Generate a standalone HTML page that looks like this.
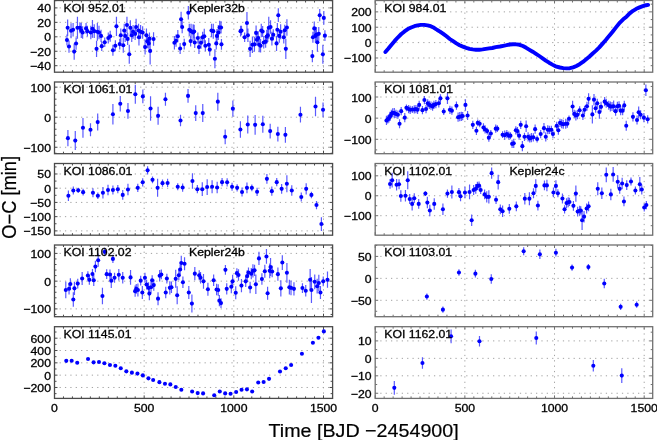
<!DOCTYPE html>
<html><head><meta charset="utf-8"><style>
html,body{margin:0;padding:0;background:#fff;}
body{width:657px;height:440px;overflow:hidden;position:relative;}
svg{will-change:transform;}
.tl{font-family:"Liberation Sans",sans-serif;font-size:11.4px;fill:#000;stroke:#000;stroke-width:0.3px;}
.ax{font-family:"Liberation Sans",sans-serif;font-size:18.3px;fill:#000;stroke:#000;stroke-width:0.2px;}
</style></head><body>
<svg width="657" height="440" viewBox="0 0 657 440" style="position:absolute;left:0;top:0">
<path d="M54.2 7.9H331.6M54.2 22.35H331.6M54.2 36.8H331.6M54.2 51.25H331.6M54.2 65.7H331.6M144.17 72.85V1.5M233.83 72.85V1.5M323.5 72.85V1.5" stroke="#a2a2a2" stroke-width="1" stroke-dasharray="1.25 4.12" fill="none"/>
<path d="M54.5 65.7h3M332.6 65.7h-3M54.5 58.47h2M332.6 58.47h-2M54.5 51.25h3M332.6 51.25h-3M54.5 44.02h2M332.6 44.02h-2M54.5 36.8h3M332.6 36.8h-3M54.5 29.57h2M332.6 29.57h-2M54.5 22.35h3M332.6 22.35h-3M54.5 15.12h2M332.6 15.12h-2M54.5 7.9h3M332.6 7.9h-3M54.5 0.67h2M332.6 0.67h-2M54.5 72.2v-3M54.5 0.5v3M63.47 72.2v-2M63.47 0.5v2M72.43 72.2v-2M72.43 0.5v2M81.4 72.2v-2M81.4 0.5v2M90.37 72.2v-2M90.37 0.5v2M99.33 72.2v-2M99.33 0.5v2M108.3 72.2v-2M108.3 0.5v2M117.27 72.2v-2M117.27 0.5v2M126.23 72.2v-2M126.23 0.5v2M135.2 72.2v-2M135.2 0.5v2M144.17 72.2v-3M144.17 0.5v3M153.13 72.2v-2M153.13 0.5v2M162.1 72.2v-2M162.1 0.5v2M171.07 72.2v-2M171.07 0.5v2M180.03 72.2v-2M180.03 0.5v2M189 72.2v-2M189 0.5v2M197.97 72.2v-2M197.97 0.5v2M206.93 72.2v-2M206.93 0.5v2M215.9 72.2v-2M215.9 0.5v2M224.87 72.2v-2M224.87 0.5v2M233.83 72.2v-3M233.83 0.5v3M242.8 72.2v-2M242.8 0.5v2M251.77 72.2v-2M251.77 0.5v2M260.73 72.2v-2M260.73 0.5v2M269.7 72.2v-2M269.7 0.5v2M278.67 72.2v-2M278.67 0.5v2M287.63 72.2v-2M287.63 0.5v2M296.6 72.2v-2M296.6 0.5v2M305.57 72.2v-2M305.57 0.5v2M314.53 72.2v-2M314.53 0.5v2M323.5 72.2v-3M323.5 0.5v3M332.47 72.2v-2M332.47 0.5v2" stroke="#4a4a4a" stroke-width="1" fill="none"/>
<path d="M66.95 34.55v10.91M67.64 19.55v16.36M69 40.41v12.27M71.05 23.23v15M73.09 22.95v13.64M74.18 43.41v16.36M76.09 37.41v12.27M77.45 16.82v21.82M79.91 22.27v10.91M81.27 22.95v15M82.64 26.36v12.27M86.05 22.95v10.91M87.41 25.68v10.91M90.82 25.68v13.64M92.45 19.95v17.73M94.23 24.32v13.64M96.55 40.68v16.36M97.36 22.95v17.73M99 25.68v13.64M101.05 29.77v12.27M101.73 41.36v9.55M104.73 37.55v9.55M108.27 32.5v10.91M110.18 30.73v10.91M112.91 44.77v10.91M115.36 40.27v10.91M116.45 16.82v19.09M119.73 38.64v10.91M120.82 28.41v13.64M123.27 37.68v15M124.23 23.64v13.64M125.18 29.77v12.27M126.95 16.82v16.36M127.64 32.77v12.27M129.27 44.77v19.09M130.36 20.23v15M131.73 28.41v13.64M133.09 25v13.64M135.14 27.73v12.27M136.09 18.86v16.36M138.55 23.64v13.64M138.95 29.09v16.36M140.59 25v13.64M142.64 26.36v12.27M145.09 39.59v15M146.45 28.41v13.64M147.41 34.55v13.64M148.77 37.95v10.91M149.45 32.5v12.27M150.14 37.27v27.27M153.55 32.23v13.64M174.41 35.91v13.64M176.05 34.55v12.27M177.82 30.05v12.27M180.14 43v10.91M181.09 11.77v15M182.18 20.91v12.27M184.23 38.64v10.91M188.32 5.91v13.64M189.27 23.64v12.27M190.64 35.64v10.91M191.05 23.64v15M193.09 24.32v16.36M194.18 24.73v13.64M194.73 37v10.91M197.86 32.5v10.91M198.95 40.27v13.64M201 36.59v12.27M202.64 31.82v10.91M204.27 28.82v15M205.36 40.27v10.91M208.77 37.95v13.64M209.73 43.41v12.27M211.5 23.64v13.64M213.27 23.64v15M214.91 49.14v19.09M216.27 37.27v12.27M216.95 29.09v13.64M218.32 25v15M219.68 20.64v13.64M221.05 21.32v12.27M221.45 38.91v10.91M240.55 25.68v10.91M241.5 25.68v9.55M244.64 32.5v9.55M246.95 12.05v21.82M247.91 28.41v13.64M250.09 40.68v16.36M252.41 36.59v16.36M254.45 36.86v15M256.09 25.41v15M256.91 33.59v12.27M258.27 31.14v13.64M259.23 37.27v15M260.59 38.91v13.64M261.27 23.64v13.64M262.64 26.09v10.91M263.73 36.32v12.27M265.64 35.5v12.27M266.73 29.77v13.64M267.82 28.41v13.64M268.77 16.82v21.82M270.55 20.23v13.64M271.91 31.82v13.64M273.27 29.36v10.91M276.55 35.91v15M277.36 22.95v13.64M278.32 8.36v13.64M279.27 29.09v13.64M280.64 24.32v15M283.77 31.14v12.27M284.73 24.73v10.91M285.82 38.64v20.45M286.91 19.27v16.36M312.36 49.95v12.27M312.91 31.82v10.91M314.27 21.59v13.64M315.36 29.09v13.64M316.45 27.05v15M317.41 32.77v19.09M318.77 27.05v13.64M319.73 9.05v12.27M322.86 44.77v19.09M323.82 11.09v13.64M324.91 30.18v10.91" stroke="#5a5aff" stroke-width="1.2" fill="none"/>
<g fill="#0000ff"><circle cx="66.95" cy="40" r="2.05"/><circle cx="67.64" cy="27.73" r="2.05"/><circle cx="69" cy="46.55" r="2.05"/><circle cx="71.05" cy="30.73" r="2.05"/><circle cx="73.09" cy="29.77" r="2.05"/><circle cx="74.18" cy="51.59" r="2.05"/><circle cx="76.09" cy="43.55" r="2.05"/><circle cx="77.45" cy="27.73" r="2.05"/><circle cx="79.91" cy="27.73" r="2.05"/><circle cx="81.27" cy="30.45" r="2.05"/><circle cx="82.64" cy="32.5" r="2.05"/><circle cx="86.05" cy="28.41" r="2.05"/><circle cx="87.41" cy="31.14" r="2.05"/><circle cx="90.82" cy="32.5" r="2.05"/><circle cx="92.45" cy="28.82" r="2.05"/><circle cx="94.23" cy="31.14" r="2.05"/><circle cx="96.55" cy="48.86" r="2.05"/><circle cx="97.36" cy="31.82" r="2.05"/><circle cx="99" cy="32.5" r="2.05"/><circle cx="101.05" cy="35.91" r="2.05"/><circle cx="101.73" cy="46.14" r="2.05"/><circle cx="104.73" cy="42.32" r="2.05"/><circle cx="108.27" cy="37.95" r="2.05"/><circle cx="110.18" cy="36.18" r="2.05"/><circle cx="112.91" cy="50.23" r="2.05"/><circle cx="115.36" cy="45.73" r="2.05"/><circle cx="116.45" cy="26.36" r="2.05"/><circle cx="119.73" cy="44.09" r="2.05"/><circle cx="120.82" cy="35.23" r="2.05"/><circle cx="123.27" cy="45.18" r="2.05"/><circle cx="124.23" cy="30.45" r="2.05"/><circle cx="125.18" cy="35.91" r="2.05"/><circle cx="126.95" cy="25" r="2.05"/><circle cx="127.64" cy="38.91" r="2.05"/><circle cx="129.27" cy="54.32" r="2.05"/><circle cx="130.36" cy="27.73" r="2.05"/><circle cx="131.73" cy="35.23" r="2.05"/><circle cx="133.09" cy="31.82" r="2.05"/><circle cx="135.14" cy="33.86" r="2.05"/><circle cx="136.09" cy="27.05" r="2.05"/><circle cx="138.55" cy="30.45" r="2.05"/><circle cx="138.95" cy="37.27" r="2.05"/><circle cx="140.59" cy="31.82" r="2.05"/><circle cx="142.64" cy="32.5" r="2.05"/><circle cx="145.09" cy="47.09" r="2.05"/><circle cx="146.45" cy="35.23" r="2.05"/><circle cx="147.41" cy="41.36" r="2.05"/><circle cx="148.77" cy="43.41" r="2.05"/><circle cx="149.45" cy="38.64" r="2.05"/><circle cx="150.14" cy="50.91" r="2.05"/><circle cx="153.55" cy="39.05" r="2.05"/><circle cx="174.41" cy="42.73" r="2.05"/><circle cx="176.05" cy="40.68" r="2.05"/><circle cx="177.82" cy="36.18" r="2.05"/><circle cx="180.14" cy="48.45" r="2.05"/><circle cx="181.09" cy="19.27" r="2.05"/><circle cx="182.18" cy="27.05" r="2.05"/><circle cx="184.23" cy="44.09" r="2.05"/><circle cx="188.32" cy="12.73" r="2.05"/><circle cx="189.27" cy="29.77" r="2.05"/><circle cx="190.64" cy="41.09" r="2.05"/><circle cx="191.05" cy="31.14" r="2.05"/><circle cx="193.09" cy="32.5" r="2.05"/><circle cx="194.18" cy="31.55" r="2.05"/><circle cx="194.73" cy="42.45" r="2.05"/><circle cx="197.86" cy="37.95" r="2.05"/><circle cx="198.95" cy="47.09" r="2.05"/><circle cx="201" cy="42.73" r="2.05"/><circle cx="202.64" cy="37.27" r="2.05"/><circle cx="204.27" cy="36.32" r="2.05"/><circle cx="205.36" cy="45.73" r="2.05"/><circle cx="208.77" cy="44.77" r="2.05"/><circle cx="209.73" cy="49.55" r="2.05"/><circle cx="211.5" cy="30.45" r="2.05"/><circle cx="213.27" cy="31.14" r="2.05"/><circle cx="214.91" cy="58.68" r="2.05"/><circle cx="216.27" cy="43.41" r="2.05"/><circle cx="216.95" cy="35.91" r="2.05"/><circle cx="218.32" cy="32.5" r="2.05"/><circle cx="219.68" cy="27.45" r="2.05"/><circle cx="221.05" cy="27.45" r="2.05"/><circle cx="221.45" cy="44.36" r="2.05"/><circle cx="240.55" cy="31.14" r="2.05"/><circle cx="241.5" cy="30.45" r="2.05"/><circle cx="244.64" cy="37.27" r="2.05"/><circle cx="246.95" cy="22.95" r="2.05"/><circle cx="247.91" cy="35.23" r="2.05"/><circle cx="250.09" cy="48.86" r="2.05"/><circle cx="252.41" cy="44.77" r="2.05"/><circle cx="254.45" cy="44.36" r="2.05"/><circle cx="256.09" cy="32.91" r="2.05"/><circle cx="256.91" cy="39.73" r="2.05"/><circle cx="258.27" cy="37.95" r="2.05"/><circle cx="259.23" cy="44.77" r="2.05"/><circle cx="260.59" cy="45.73" r="2.05"/><circle cx="261.27" cy="30.45" r="2.05"/><circle cx="262.64" cy="31.55" r="2.05"/><circle cx="263.73" cy="42.45" r="2.05"/><circle cx="265.64" cy="41.64" r="2.05"/><circle cx="266.73" cy="36.59" r="2.05"/><circle cx="267.82" cy="35.23" r="2.05"/><circle cx="268.77" cy="27.73" r="2.05"/><circle cx="270.55" cy="27.05" r="2.05"/><circle cx="271.91" cy="38.64" r="2.05"/><circle cx="273.27" cy="34.82" r="2.05"/><circle cx="276.55" cy="43.41" r="2.05"/><circle cx="277.36" cy="29.77" r="2.05"/><circle cx="278.32" cy="15.18" r="2.05"/><circle cx="279.27" cy="35.91" r="2.05"/><circle cx="280.64" cy="31.82" r="2.05"/><circle cx="283.77" cy="37.27" r="2.05"/><circle cx="284.73" cy="30.18" r="2.05"/><circle cx="285.82" cy="48.86" r="2.05"/><circle cx="286.91" cy="27.45" r="2.05"/><circle cx="312.36" cy="56.09" r="2.05"/><circle cx="312.91" cy="37.27" r="2.05"/><circle cx="314.27" cy="28.41" r="2.05"/><circle cx="315.36" cy="35.91" r="2.05"/><circle cx="316.45" cy="34.55" r="2.05"/><circle cx="317.41" cy="42.32" r="2.05"/><circle cx="318.77" cy="33.86" r="2.05"/><circle cx="319.73" cy="15.18" r="2.05"/><circle cx="322.86" cy="54.32" r="2.05"/><circle cx="323.82" cy="17.91" r="2.05"/><circle cx="324.91" cy="35.64" r="2.05"/></g>
<rect x="54.5" y="0.5" width="278.1" height="71.7" fill="none" stroke="#4a4a4a" stroke-width="1.3"/>
<text transform="translate(51 12.4) scale(1.075 1)" text-anchor="end" class="tl">40</text>
<text transform="translate(51 26.85) scale(1.075 1)" text-anchor="end" class="tl">20</text>
<text transform="translate(51 41.3) scale(1.075 1)" text-anchor="end" class="tl">0</text>
<text transform="translate(51 55.75) scale(1.075 1)" text-anchor="end" class="tl">−20</text>
<text transform="translate(51 70.2) scale(1.075 1)" text-anchor="end" class="tl">−40</text>
<text transform="translate(63.6 11.6) scale(1.075 1)" class="tl">KOI 952.01</text>
<text transform="translate(189 11.6) scale(1.075 1)" class="tl">Kepler32b</text>
<path d="M54.2 87.15H331.6M54.2 117.2H331.6M54.2 147.25H331.6M144.17 154.35V83M233.83 154.35V83M323.5 154.35V83" stroke="#a2a2a2" stroke-width="1" stroke-dasharray="1.25 4.12" fill="none"/>
<path d="M54.5 153.26h2M332.6 153.26h-2M54.5 147.25h3M332.6 147.25h-3M54.5 141.24h2M332.6 141.24h-2M54.5 135.23h2M332.6 135.23h-2M54.5 129.22h2M332.6 129.22h-2M54.5 123.21h2M332.6 123.21h-2M54.5 117.2h3M332.6 117.2h-3M54.5 111.19h2M332.6 111.19h-2M54.5 105.18h2M332.6 105.18h-2M54.5 99.17h2M332.6 99.17h-2M54.5 93.16h2M332.6 93.16h-2M54.5 87.15h3M332.6 87.15h-3M54.5 153.7v-3M54.5 82v3M63.47 153.7v-2M63.47 82v2M72.43 153.7v-2M72.43 82v2M81.4 153.7v-2M81.4 82v2M90.37 153.7v-2M90.37 82v2M99.33 153.7v-2M99.33 82v2M108.3 153.7v-2M108.3 82v2M117.27 153.7v-2M117.27 82v2M126.23 153.7v-2M126.23 82v2M135.2 153.7v-2M135.2 82v2M144.17 153.7v-3M144.17 82v3M153.13 153.7v-2M153.13 82v2M162.1 153.7v-2M162.1 82v2M171.07 153.7v-2M171.07 82v2M180.03 153.7v-2M180.03 82v2M189 153.7v-2M189 82v2M197.97 153.7v-2M197.97 82v2M206.93 153.7v-2M206.93 82v2M215.9 153.7v-2M215.9 82v2M224.87 153.7v-2M224.87 82v2M233.83 153.7v-3M233.83 82v3M242.8 153.7v-2M242.8 82v2M251.77 153.7v-2M251.77 82v2M260.73 153.7v-2M260.73 82v2M269.7 153.7v-2M269.7 82v2M278.67 153.7v-2M278.67 82v2M287.63 153.7v-2M287.63 82v2M296.6 153.7v-2M296.6 82v2M305.57 153.7v-2M305.57 82v2M314.53 153.7v-2M314.53 82v2M323.5 153.7v-3M323.5 82v3M332.47 153.7v-2M332.47 82v2" stroke="#4a4a4a" stroke-width="1" fill="none"/>
<path d="M67.91 129.95v16.36M75.27 131.09v18.98M82.96 118v19.64M90.49 123.24v13.09M97.69 113.58v17.02M112.91 104.09v20.29M120.27 95.91v15.71M127.96 103.11v15.71M135.33 84.78v18.98M142.85 89.53v13.75M150.55 96.24v24.55M158.09 106.87v18M165.45 92.64v13.09M180.51 114.73v11.45M188.04 89.04v13.75M195.73 105.24v15.71M202.76 104.09v18M217.82 92.64v18M225.18 129.45v14.73M232.87 100.49v16.36M240.4 121.27v16.36M247.76 115.55v18M255.13 115.05v19.64M262.82 115.71v17.02M270.18 123.73v14.73M277.87 126.67v14.73M285.4 127v15.71M300.45 106.87v15.71M315.51 96.73v19.64M323.04 102.45v14.73" stroke="#5a5aff" stroke-width="1.2" fill="none"/>
<g fill="#0000ff"><circle cx="67.91" cy="138.13" r="2.05"/><circle cx="75.27" cy="140.58" r="2.05"/><circle cx="82.96" cy="127.82" r="2.05"/><circle cx="90.49" cy="129.78" r="2.05"/><circle cx="97.69" cy="122.09" r="2.05"/><circle cx="112.91" cy="114.24" r="2.05"/><circle cx="120.27" cy="103.76" r="2.05"/><circle cx="127.96" cy="110.96" r="2.05"/><circle cx="135.33" cy="94.27" r="2.05"/><circle cx="142.85" cy="96.4" r="2.05"/><circle cx="150.55" cy="108.51" r="2.05"/><circle cx="158.09" cy="115.87" r="2.05"/><circle cx="165.45" cy="99.18" r="2.05"/><circle cx="180.51" cy="120.45" r="2.05"/><circle cx="188.04" cy="95.91" r="2.05"/><circle cx="195.73" cy="113.09" r="2.05"/><circle cx="202.76" cy="113.09" r="2.05"/><circle cx="217.82" cy="101.64" r="2.05"/><circle cx="225.18" cy="136.82" r="2.05"/><circle cx="232.87" cy="108.67" r="2.05"/><circle cx="240.4" cy="129.45" r="2.05"/><circle cx="247.76" cy="124.55" r="2.05"/><circle cx="255.13" cy="124.87" r="2.05"/><circle cx="262.82" cy="124.22" r="2.05"/><circle cx="270.18" cy="131.09" r="2.05"/><circle cx="277.87" cy="134.04" r="2.05"/><circle cx="285.4" cy="134.85" r="2.05"/><circle cx="300.45" cy="114.73" r="2.05"/><circle cx="315.51" cy="106.55" r="2.05"/><circle cx="323.04" cy="109.82" r="2.05"/></g>
<rect x="54.5" y="82" width="278.1" height="71.7" fill="none" stroke="#4a4a4a" stroke-width="1.3"/>
<text transform="translate(51 91.65) scale(1.075 1)" text-anchor="end" class="tl">100</text>
<text transform="translate(51 121.7) scale(1.075 1)" text-anchor="end" class="tl">0</text>
<text transform="translate(51 151.75) scale(1.075 1)" text-anchor="end" class="tl">−100</text>
<text transform="translate(63.6 93.1) scale(1.075 1)" class="tl">KOI 1061.01</text>
<path d="M54.2 173.97H331.6M54.2 188.2H331.6M54.2 202.42H331.6M54.2 216.65H331.6M54.2 230.88H331.6M144.17 235.85V164.5M233.83 235.85V164.5M323.5 235.85V164.5" stroke="#a2a2a2" stroke-width="1" stroke-dasharray="1.25 4.12" fill="none"/>
<path d="M54.5 230.88h3M332.6 230.88h-3M54.5 223.76h2M332.6 223.76h-2M54.5 216.65h3M332.6 216.65h-3M54.5 209.54h2M332.6 209.54h-2M54.5 202.42h3M332.6 202.42h-3M54.5 195.31h2M332.6 195.31h-2M54.5 188.2h3M332.6 188.2h-3M54.5 181.09h2M332.6 181.09h-2M54.5 173.97h3M332.6 173.97h-3M54.5 166.86h2M332.6 166.86h-2M54.5 235.2v-3M54.5 163.5v3M63.47 235.2v-2M63.47 163.5v2M72.43 235.2v-2M72.43 163.5v2M81.4 235.2v-2M81.4 163.5v2M90.37 235.2v-2M90.37 163.5v2M99.33 235.2v-2M99.33 163.5v2M108.3 235.2v-2M108.3 163.5v2M117.27 235.2v-2M117.27 163.5v2M126.23 235.2v-2M126.23 163.5v2M135.2 235.2v-2M135.2 163.5v2M144.17 235.2v-3M144.17 163.5v3M153.13 235.2v-2M153.13 163.5v2M162.1 235.2v-2M162.1 163.5v2M171.07 235.2v-2M171.07 163.5v2M180.03 235.2v-2M180.03 163.5v2M189 235.2v-2M189 163.5v2M197.97 235.2v-2M197.97 163.5v2M206.93 235.2v-2M206.93 163.5v2M215.9 235.2v-2M215.9 163.5v2M224.87 235.2v-2M224.87 163.5v2M233.83 235.2v-3M233.83 163.5v3M242.8 235.2v-2M242.8 163.5v2M251.77 235.2v-2M251.77 163.5v2M260.73 235.2v-2M260.73 163.5v2M269.7 235.2v-2M269.7 163.5v2M278.67 235.2v-2M278.67 163.5v2M287.63 235.2v-2M287.63 163.5v2M296.6 235.2v-2M296.6 163.5v2M305.57 235.2v-2M305.57 163.5v2M314.53 235.2v-2M314.53 163.5v2M323.5 235.2v-3M323.5 163.5v3M332.47 235.2v-2M332.47 163.5v2" stroke="#4a4a4a" stroke-width="1" fill="none"/>
<path d="M68.4 190.49v10.47M73.31 186.4v8.18M78.22 187.87v4.91M83.13 188.85v6.55M92.95 188.2v9.16M97.85 192.45v6.55M102.93 187.05v11.45M108 184.76v10.47M112.91 185.42v9.16M117.82 185.09v8.18M122.73 190v9.82M127.96 183.78v11.45M137.78 183.78v8.18M142.69 178.22v8.18M147.6 166.27v8.18M152.51 176.58v6.55M157.6 178.87v18M162.51 179.53v7.2M167.58 178.87v8.18M177.73 183.13v7.2M182.64 183.45v8.18M192.45 173.15v15.71M197.36 185.09v8.18M202.27 182.31v13.75M207.18 179.2v15.71M212.09 180.18v13.09M217.16 181.82v11.45M222.07 178.05v8.18M227.15 178.22v8.18M232.05 182.64v8.18M237.13 184.27v7.2M242.04 187.38v9.16M246.95 182.47v10.8M251.85 184.6v6.55M257.09 187.71v8.18M266.91 173.96v9.82M271.82 186.56v9.16M276.73 178.05v8.18M281.64 183.95v9.82M286.87 175.27v17.02M291.78 185.25v10.47M301.27 192.45v9.16M306.18 183.13v11.45M311.42 191.64v6.55M316.49 200.96v8.18M321.4 217.16v13.75" stroke="#5a5aff" stroke-width="1.2" fill="none"/>
<g fill="#0000ff"><circle cx="68.4" cy="195.73" r="2.05"/><circle cx="73.31" cy="190.49" r="2.05"/><circle cx="78.22" cy="190.33" r="2.05"/><circle cx="83.13" cy="192.13" r="2.05"/><circle cx="92.95" cy="192.78" r="2.05"/><circle cx="97.85" cy="195.73" r="2.05"/><circle cx="102.93" cy="192.78" r="2.05"/><circle cx="108" cy="190" r="2.05"/><circle cx="112.91" cy="190" r="2.05"/><circle cx="117.82" cy="189.18" r="2.05"/><circle cx="122.73" cy="194.91" r="2.05"/><circle cx="127.96" cy="189.51" r="2.05"/><circle cx="137.78" cy="187.87" r="2.05"/><circle cx="142.69" cy="182.31" r="2.05"/><circle cx="147.6" cy="170.36" r="2.05"/><circle cx="152.51" cy="179.85" r="2.05"/><circle cx="157.6" cy="187.87" r="2.05"/><circle cx="162.51" cy="183.13" r="2.05"/><circle cx="167.58" cy="182.96" r="2.05"/><circle cx="177.73" cy="186.73" r="2.05"/><circle cx="182.64" cy="187.55" r="2.05"/><circle cx="192.45" cy="181" r="2.05"/><circle cx="197.36" cy="189.18" r="2.05"/><circle cx="202.27" cy="189.18" r="2.05"/><circle cx="207.18" cy="187.05" r="2.05"/><circle cx="212.09" cy="186.73" r="2.05"/><circle cx="217.16" cy="187.55" r="2.05"/><circle cx="222.07" cy="182.15" r="2.05"/><circle cx="227.15" cy="182.31" r="2.05"/><circle cx="232.05" cy="186.73" r="2.05"/><circle cx="237.13" cy="187.87" r="2.05"/><circle cx="242.04" cy="191.96" r="2.05"/><circle cx="246.95" cy="187.87" r="2.05"/><circle cx="251.85" cy="187.87" r="2.05"/><circle cx="257.09" cy="191.8" r="2.05"/><circle cx="266.91" cy="178.87" r="2.05"/><circle cx="271.82" cy="191.15" r="2.05"/><circle cx="276.73" cy="182.15" r="2.05"/><circle cx="281.64" cy="188.85" r="2.05"/><circle cx="286.87" cy="183.78" r="2.05"/><circle cx="291.78" cy="190.49" r="2.05"/><circle cx="301.27" cy="197.04" r="2.05"/><circle cx="306.18" cy="188.85" r="2.05"/><circle cx="311.42" cy="194.91" r="2.05"/><circle cx="316.49" cy="205.05" r="2.05"/><circle cx="321.4" cy="224.04" r="2.05"/></g>
<rect x="54.5" y="163.5" width="278.1" height="71.7" fill="none" stroke="#4a4a4a" stroke-width="1.3"/>
<text transform="translate(51 178.47) scale(1.075 1)" text-anchor="end" class="tl">50</text>
<text transform="translate(51 192.7) scale(1.075 1)" text-anchor="end" class="tl">0</text>
<text transform="translate(51 206.92) scale(1.075 1)" text-anchor="end" class="tl">−50</text>
<text transform="translate(51 221.15) scale(1.075 1)" text-anchor="end" class="tl">−100</text>
<text transform="translate(51 235.38) scale(1.075 1)" text-anchor="end" class="tl">−150</text>
<text transform="translate(63.6 174.6) scale(1.075 1)" class="tl">KOI 1086.01</text>
<path d="M54.2 253.4H331.6M54.2 281.15H331.6M54.2 308.9H331.6M144.17 317.35V246M233.83 317.35V246M323.5 317.35V246" stroke="#a2a2a2" stroke-width="1" stroke-dasharray="1.25 4.12" fill="none"/>
<path d="M54.5 314.45h2M332.6 314.45h-2M54.5 308.9h3M332.6 308.9h-3M54.5 303.35h2M332.6 303.35h-2M54.5 297.8h2M332.6 297.8h-2M54.5 292.25h2M332.6 292.25h-2M54.5 286.7h2M332.6 286.7h-2M54.5 281.15h3M332.6 281.15h-3M54.5 275.6h2M332.6 275.6h-2M54.5 270.05h2M332.6 270.05h-2M54.5 264.5h2M332.6 264.5h-2M54.5 258.95h2M332.6 258.95h-2M54.5 253.4h3M332.6 253.4h-3M54.5 247.85h2M332.6 247.85h-2M54.5 316.7v-3M54.5 245v3M63.47 316.7v-2M63.47 245v2M72.43 316.7v-2M72.43 245v2M81.4 316.7v-2M81.4 245v2M90.37 316.7v-2M90.37 245v2M99.33 316.7v-2M99.33 245v2M108.3 316.7v-2M108.3 245v2M117.27 316.7v-2M117.27 245v2M126.23 316.7v-2M126.23 245v2M135.2 316.7v-2M135.2 245v2M144.17 316.7v-3M144.17 245v3M153.13 316.7v-2M153.13 245v2M162.1 316.7v-2M162.1 245v2M171.07 316.7v-2M171.07 245v2M180.03 316.7v-2M180.03 245v2M189 316.7v-2M189 245v2M197.97 316.7v-2M197.97 245v2M206.93 316.7v-2M206.93 245v2M215.9 316.7v-2M215.9 245v2M224.87 316.7v-2M224.87 245v2M233.83 316.7v-3M233.83 245v3M242.8 316.7v-2M242.8 245v2M251.77 316.7v-2M251.77 245v2M260.73 316.7v-2M260.73 245v2M269.7 316.7v-2M269.7 245v2M278.67 316.7v-2M278.67 245v2M287.63 316.7v-2M287.63 245v2M296.6 316.7v-2M296.6 245v2M305.57 316.7v-2M305.57 245v2M314.53 316.7v-2M314.53 245v2M323.5 316.7v-3M323.5 245v3M332.47 316.7v-2M332.47 245v2" stroke="#4a4a4a" stroke-width="1" fill="none"/>
<path d="M65.78 281.82v16.36M69.05 282.96v11.45M70.36 278.22v11.45M73.31 292.13v14.73M74.45 281.82v13.09M77.73 278.71v9.82M82.15 272v13.09M87.87 271.35v8.18M89.35 274.95v9.82M92.45 269.05v9.82M93.76 274.45v11.45M95.4 260.87v11.45M98.18 253.67v13.09M102.44 287.87v16.36M104.73 247.78v8.18M106.69 269.22v9.82M109.96 269.55v9.82M111.27 273.31v14.73M112.91 254.82v8.18M114.55 272.82v9.82M118.8 269.05v11.45M122.73 272v11.45M130.55 270.04v14.73M135.13 285.42v11.45M136.27 283.95v9.82M137.91 283.45v13.09M140.69 275.76v9.82M142.33 285.91v13.09M144.95 272.82v9.82M146.58 279.69v9.82M148.55 282.15v11.45M149.36 287.05v13.09M151 281.49v11.45M152.15 275.27v9.82M153.78 279.36v11.45M158.04 292.13v13.09M159.67 270.04v11.45M161.31 269.55v9.82M165.73 286.73v11.45M166.87 273.64v9.82M169.82 281.33v13.09M171.45 281.49v11.45M175.71 269.87v18M177.18 286.24v18M178.82 270.36v9.82M180.13 264.64v9.82M181.27 255.64v14.73M182.91 276.58v11.45M184.55 257.27v13.09M188.8 285.91v13.09M191.91 294.58v18M194.82 267.09v13.09M199.24 270.36v9.82M200.55 272v11.45M203.49 273.96v14.73M207.91 282.64v13.09M213.64 274.45v11.45M216.58 283.78v11.45M218.22 284.27v11.45M219.36 294.91v11.45M221 298.18v9.82M225.42 264.96v9.82M226.73 283.13v11.45M231.31 280.18v13.09M232.62 274.78v13.09M235.73 286.24v13.09M236.87 268.24v9.82M238.51 269.22v11.45M241.45 279.04v13.09M245.71 275.6v11.45M247.18 270.36v11.45M248.49 267.58v9.82M250.13 281.82v11.45M251.27 267.91v11.45M252.91 264.31v13.09M254.55 264.64v11.45M255.85 274.45v19.64M258.96 251.87v13.09M261.91 273.31v11.45M264.82 264.64v13.09M266.45 249.09v14.73M267.6 286.73v13.09M269.73 263.49v14.73M270.55 258.09v18M272.18 265.78v11.45M277.91 267.58v13.09M280.85 280.18v16.36M282.33 255.15v14.73M286.91 263v19.64M289.36 279.85v14.73M291 280.51v14.73M293.95 282.31v13.09M302.45 283.13v9.82M305.73 285.09v11.45M310.15 269.05v21.27M311.45 276.91v26.18M314.73 274.45v14.73M317.18 278.87v14.73M318.82 274.78v16.36M320.45 285.91v13.09M323.24 276.42v9.82M327.49 271.51v16.36" stroke="#5a5aff" stroke-width="1.2" fill="none"/>
<g fill="#0000ff"><circle cx="65.78" cy="290" r="2.05"/><circle cx="69.05" cy="288.69" r="2.05"/><circle cx="70.36" cy="283.95" r="2.05"/><circle cx="73.31" cy="299.49" r="2.05"/><circle cx="74.45" cy="288.36" r="2.05"/><circle cx="77.73" cy="283.62" r="2.05"/><circle cx="82.15" cy="278.55" r="2.05"/><circle cx="87.87" cy="275.44" r="2.05"/><circle cx="89.35" cy="279.85" r="2.05"/><circle cx="92.45" cy="273.96" r="2.05"/><circle cx="93.76" cy="280.18" r="2.05"/><circle cx="95.4" cy="266.6" r="2.05"/><circle cx="98.18" cy="260.22" r="2.05"/><circle cx="102.44" cy="296.05" r="2.05"/><circle cx="104.73" cy="251.87" r="2.05"/><circle cx="106.69" cy="274.13" r="2.05"/><circle cx="109.96" cy="274.45" r="2.05"/><circle cx="111.27" cy="280.67" r="2.05"/><circle cx="112.91" cy="258.91" r="2.05"/><circle cx="114.55" cy="277.73" r="2.05"/><circle cx="118.8" cy="274.78" r="2.05"/><circle cx="122.73" cy="277.73" r="2.05"/><circle cx="130.55" cy="277.4" r="2.05"/><circle cx="135.13" cy="291.15" r="2.05"/><circle cx="136.27" cy="288.85" r="2.05"/><circle cx="137.91" cy="290" r="2.05"/><circle cx="140.69" cy="280.67" r="2.05"/><circle cx="142.33" cy="292.45" r="2.05"/><circle cx="144.95" cy="277.73" r="2.05"/><circle cx="146.58" cy="284.6" r="2.05"/><circle cx="148.55" cy="287.87" r="2.05"/><circle cx="149.36" cy="293.6" r="2.05"/><circle cx="151" cy="287.22" r="2.05"/><circle cx="152.15" cy="280.18" r="2.05"/><circle cx="153.78" cy="285.09" r="2.05"/><circle cx="158.04" cy="298.67" r="2.05"/><circle cx="159.67" cy="275.76" r="2.05"/><circle cx="161.31" cy="274.45" r="2.05"/><circle cx="165.73" cy="292.45" r="2.05"/><circle cx="166.87" cy="278.55" r="2.05"/><circle cx="169.82" cy="287.87" r="2.05"/><circle cx="171.45" cy="287.22" r="2.05"/><circle cx="175.71" cy="278.87" r="2.05"/><circle cx="177.18" cy="295.24" r="2.05"/><circle cx="178.82" cy="275.27" r="2.05"/><circle cx="180.13" cy="269.55" r="2.05"/><circle cx="181.27" cy="263" r="2.05"/><circle cx="182.91" cy="282.31" r="2.05"/><circle cx="184.55" cy="263.82" r="2.05"/><circle cx="188.8" cy="292.45" r="2.05"/><circle cx="191.91" cy="303.58" r="2.05"/><circle cx="194.82" cy="273.64" r="2.05"/><circle cx="199.24" cy="275.27" r="2.05"/><circle cx="200.55" cy="277.73" r="2.05"/><circle cx="203.49" cy="281.33" r="2.05"/><circle cx="207.91" cy="289.18" r="2.05"/><circle cx="213.64" cy="280.18" r="2.05"/><circle cx="216.58" cy="289.51" r="2.05"/><circle cx="218.22" cy="290" r="2.05"/><circle cx="219.36" cy="300.64" r="2.05"/><circle cx="221" cy="303.09" r="2.05"/><circle cx="225.42" cy="269.87" r="2.05"/><circle cx="226.73" cy="288.85" r="2.05"/><circle cx="231.31" cy="286.73" r="2.05"/><circle cx="232.62" cy="281.33" r="2.05"/><circle cx="235.73" cy="292.78" r="2.05"/><circle cx="236.87" cy="273.15" r="2.05"/><circle cx="238.51" cy="274.95" r="2.05"/><circle cx="241.45" cy="285.58" r="2.05"/><circle cx="245.71" cy="281.33" r="2.05"/><circle cx="247.18" cy="276.09" r="2.05"/><circle cx="248.49" cy="272.49" r="2.05"/><circle cx="250.13" cy="287.55" r="2.05"/><circle cx="251.27" cy="273.64" r="2.05"/><circle cx="252.91" cy="270.85" r="2.05"/><circle cx="254.55" cy="270.36" r="2.05"/><circle cx="255.85" cy="284.27" r="2.05"/><circle cx="258.96" cy="258.42" r="2.05"/><circle cx="261.91" cy="279.04" r="2.05"/><circle cx="264.82" cy="271.18" r="2.05"/><circle cx="266.45" cy="256.45" r="2.05"/><circle cx="267.6" cy="293.27" r="2.05"/><circle cx="269.73" cy="270.85" r="2.05"/><circle cx="270.55" cy="267.09" r="2.05"/><circle cx="272.18" cy="271.51" r="2.05"/><circle cx="277.91" cy="274.13" r="2.05"/><circle cx="280.85" cy="288.36" r="2.05"/><circle cx="282.33" cy="262.51" r="2.05"/><circle cx="286.91" cy="272.82" r="2.05"/><circle cx="289.36" cy="287.22" r="2.05"/><circle cx="291" cy="287.87" r="2.05"/><circle cx="293.95" cy="288.85" r="2.05"/><circle cx="302.45" cy="288.04" r="2.05"/><circle cx="305.73" cy="290.82" r="2.05"/><circle cx="310.15" cy="279.69" r="2.05"/><circle cx="311.45" cy="290" r="2.05"/><circle cx="314.73" cy="281.82" r="2.05"/><circle cx="317.18" cy="286.24" r="2.05"/><circle cx="318.82" cy="282.96" r="2.05"/><circle cx="320.45" cy="292.45" r="2.05"/><circle cx="323.24" cy="281.33" r="2.05"/><circle cx="327.49" cy="279.69" r="2.05"/></g>
<rect x="54.5" y="245" width="278.1" height="71.7" fill="none" stroke="#4a4a4a" stroke-width="1.3"/>
<text transform="translate(51 257.9) scale(1.075 1)" text-anchor="end" class="tl">100</text>
<text transform="translate(51 285.65) scale(1.075 1)" text-anchor="end" class="tl">0</text>
<text transform="translate(51 313.4) scale(1.075 1)" text-anchor="end" class="tl">−100</text>
<text transform="translate(63.6 256.1) scale(1.075 1)" class="tl">KOI 1102.02</text>
<text transform="translate(189 256.1) scale(1.075 1)" class="tl">Kepler24b</text>
<path d="M54.2 338.19H331.6M54.2 350.51H331.6M54.2 362.83H331.6M54.2 375.15H331.6M54.2 387.47H331.6M144.17 399.05V327.7M233.83 399.05V327.7M323.5 399.05V327.7" stroke="#a2a2a2" stroke-width="1" stroke-dasharray="1.25 4.12" fill="none"/>
<path d="M54.5 393.63h2M332.6 393.63h-2M54.5 387.47h3M332.6 387.47h-3M54.5 381.31h2M332.6 381.31h-2M54.5 375.15h3M332.6 375.15h-3M54.5 368.99h2M332.6 368.99h-2M54.5 362.83h3M332.6 362.83h-3M54.5 356.67h2M332.6 356.67h-2M54.5 350.51h3M332.6 350.51h-3M54.5 344.35h2M332.6 344.35h-2M54.5 338.19h3M332.6 338.19h-3M54.5 332.03h2M332.6 332.03h-2M54.5 398.4v-3M54.5 326.7v3M63.47 398.4v-2M63.47 326.7v2M72.43 398.4v-2M72.43 326.7v2M81.4 398.4v-2M81.4 326.7v2M90.37 398.4v-2M90.37 326.7v2M99.33 398.4v-2M99.33 326.7v2M108.3 398.4v-2M108.3 326.7v2M117.27 398.4v-2M117.27 326.7v2M126.23 398.4v-2M126.23 326.7v2M135.2 398.4v-2M135.2 326.7v2M144.17 398.4v-3M144.17 326.7v3M153.13 398.4v-2M153.13 326.7v2M162.1 398.4v-2M162.1 326.7v2M171.07 398.4v-2M171.07 326.7v2M180.03 398.4v-2M180.03 326.7v2M189 398.4v-2M189 326.7v2M197.97 398.4v-2M197.97 326.7v2M206.93 398.4v-2M206.93 326.7v2M215.9 398.4v-2M215.9 326.7v2M224.87 398.4v-2M224.87 326.7v2M233.83 398.4v-3M233.83 326.7v3M242.8 398.4v-2M242.8 326.7v2M251.77 398.4v-2M251.77 326.7v2M260.73 398.4v-2M260.73 326.7v2M269.7 398.4v-2M269.7 326.7v2M278.67 398.4v-2M278.67 326.7v2M287.63 398.4v-2M287.63 326.7v2M296.6 398.4v-2M296.6 326.7v2M305.57 398.4v-2M305.57 326.7v2M314.53 398.4v-2M314.53 326.7v2M323.5 398.4v-3M323.5 326.7v3M332.47 398.4v-2M332.47 326.7v2" stroke="#4a4a4a" stroke-width="1" fill="none"/>
<g fill="#0000ff"><circle cx="66.27" cy="360.85" r="2.05"/><circle cx="71.67" cy="360.69" r="2.05"/><circle cx="77.24" cy="362.82" r="2.05"/><circle cx="88.04" cy="359.05" r="2.05"/><circle cx="93.6" cy="362.33" r="2.05"/><circle cx="99" cy="362" r="2.05"/><circle cx="104.4" cy="363.31" r="2.05"/><circle cx="109.96" cy="364.95" r="2.05"/><circle cx="115.36" cy="365.76" r="2.05"/><circle cx="120.76" cy="368.22" r="2.05"/><circle cx="126.33" cy="371.33" r="2.05"/><circle cx="131.89" cy="372.64" r="2.05"/><circle cx="137.45" cy="373.62" r="2.05"/><circle cx="142.85" cy="375.42" r="2.05"/><circle cx="148.42" cy="378.36" r="2.05"/><circle cx="153.16" cy="380" r="2.05"/><circle cx="159.4" cy="382.13" r="2.05"/><circle cx="164.96" cy="383.76" r="2.05"/><circle cx="170.36" cy="384.42" r="2.05"/><circle cx="175.76" cy="387.04" r="2.05"/><circle cx="181.33" cy="389.82" r="2.05"/><circle cx="192.13" cy="391.45" r="2.05"/><circle cx="197.69" cy="393.09" r="2.05"/><circle cx="203.09" cy="393.42" r="2.05"/><circle cx="214.22" cy="395.22" r="2.05"/><circle cx="219.78" cy="391.45" r="2.05"/><circle cx="225.18" cy="393.42" r="2.05"/><circle cx="230.58" cy="393.75" r="2.05"/><circle cx="236.15" cy="391.95" r="2.05"/><circle cx="241.55" cy="389.82" r="2.05"/><circle cx="246.95" cy="389.33" r="2.05"/><circle cx="252.18" cy="391.45" r="2.05"/><circle cx="258.24" cy="382.45" r="2.05"/><circle cx="263.64" cy="381.96" r="2.05"/><circle cx="269.04" cy="378.85" r="2.05"/><circle cx="280" cy="371.49" r="2.05"/><circle cx="285.73" cy="368.22" r="2.05"/><circle cx="291.13" cy="364.95" r="2.05"/><circle cx="301.93" cy="353.82" r="2.05"/><circle cx="312.89" cy="342.69" r="2.05"/><circle cx="318.45" cy="337.78" r="2.05"/><circle cx="323.85" cy="331.4" r="2.05"/></g>
<rect x="54.5" y="326.7" width="278.1" height="71.7" fill="none" stroke="#4a4a4a" stroke-width="1.3"/>
<text transform="translate(51 342.69) scale(1.075 1)" text-anchor="end" class="tl">600</text>
<text transform="translate(51 355.01) scale(1.075 1)" text-anchor="end" class="tl">400</text>
<text transform="translate(51 367.33) scale(1.075 1)" text-anchor="end" class="tl">200</text>
<text transform="translate(51 379.65) scale(1.075 1)" text-anchor="end" class="tl">0</text>
<text transform="translate(51 391.97) scale(1.075 1)" text-anchor="end" class="tl">−200</text>
<text transform="translate(63.6 337.8) scale(1.075 1)" class="tl">KOI 1145.01</text>
<path d="M374.9 11.86H651.7M374.9 27.23H651.7M374.9 42.6H651.7M374.9 57.97H651.7M464.87 72.85V1.5M554.53 72.85V1.5M644.2 72.85V1.5" stroke="#a2a2a2" stroke-width="1" stroke-dasharray="1.25 4.12" fill="none"/>
<path d="M375.2 65.66h2M652.7 65.66h-2M375.2 57.97h3M652.7 57.97h-3M375.2 50.29h2M652.7 50.29h-2M375.2 42.6h3M652.7 42.6h-3M375.2 34.91h2M652.7 34.91h-2M375.2 27.23h3M652.7 27.23h-3M375.2 19.55h2M652.7 19.55h-2M375.2 11.86h3M652.7 11.86h-3M375.2 4.17h2M652.7 4.17h-2M375.2 72.2v-3M375.2 0.5v3M384.17 72.2v-2M384.17 0.5v2M393.13 72.2v-2M393.13 0.5v2M402.1 72.2v-2M402.1 0.5v2M411.07 72.2v-2M411.07 0.5v2M420.03 72.2v-2M420.03 0.5v2M429 72.2v-2M429 0.5v2M437.97 72.2v-2M437.97 0.5v2M446.93 72.2v-2M446.93 0.5v2M455.9 72.2v-2M455.9 0.5v2M464.87 72.2v-3M464.87 0.5v3M473.83 72.2v-2M473.83 0.5v2M482.8 72.2v-2M482.8 0.5v2M491.77 72.2v-2M491.77 0.5v2M500.73 72.2v-2M500.73 0.5v2M509.7 72.2v-2M509.7 0.5v2M518.67 72.2v-2M518.67 0.5v2M527.63 72.2v-2M527.63 0.5v2M536.6 72.2v-2M536.6 0.5v2M545.57 72.2v-2M545.57 0.5v2M554.53 72.2v-3M554.53 0.5v3M563.5 72.2v-2M563.5 0.5v2M572.47 72.2v-2M572.47 0.5v2M581.43 72.2v-2M581.43 0.5v2M590.4 72.2v-2M590.4 0.5v2M599.37 72.2v-2M599.37 0.5v2M608.33 72.2v-2M608.33 0.5v2M617.3 72.2v-2M617.3 0.5v2M626.27 72.2v-2M626.27 0.5v2M635.23 72.2v-2M635.23 0.5v2M644.2 72.2v-3M644.2 0.5v3" stroke="#707070" stroke-width="1" fill="none"/>
<g fill="#0000ff"></g>
<path d="M385.4 52 L388.2 48.8 L391.5 44.7 L394.7 40.9 L398 37.3 L401.3 34 L404.5 31.4 L407.8 29.1 L411.1 27.5 L414.4 26.2 L417.6 25.4 L420.9 24.9 L424.2 24.9 L427.5 25.4 L430.7 26.2 L434 27.8 L437.3 30 L440 31.6 L443.3 33.9 L446.5 36.3 L449.8 39 L453.1 41.2 L456.4 43.4 L459.6 45.2 L462.9 46.6 L466.2 47.8 L469.5 48.8 L472.7 49.4 L476 49.8 L479.3 49.8 L482.6 49.4 L485.8 48.9 L489.1 48.4 L492.4 48 L495.6 47.1 L500 46.5 L503.3 45.8 L506.5 45.2 L509.8 44.5 L513.1 44.2 L516.4 44.4 L519.6 44.8 L522.9 46 L526.2 47.8 L529.5 49.8 L532.7 51.7 L536 53.8 L539.3 56 L542.6 58.3 L545.8 60.6 L549.1 62.7 L552.4 64.6 L555.6 66.3 L560 67.5 L563.3 68.1 L566.5 68.4 L569.8 68.2 L573.1 67.4 L576.4 66 L579.6 64.2 L582.9 61.9 L586.2 59.2 L589.5 56.5 L592.7 53.5 L596 50.6 L599.3 47.4 L602.6 43.6 L605.8 40 L609.1 35.9 L612.4 32 L615.6 27.9 L619.9 22.6 L623.2 19.3 L626.5 16.7 L629.7 13.4 L633 10.8 L636.3 8.8 L639.6 7.4 L642.8 6.2 L646.1 5.2 L648.1 4.9" stroke="#0000ff" stroke-width="3.9" stroke-linecap="round" stroke-linejoin="round" fill="none"/>
<rect x="375.2" y="0.5" width="277.5" height="71.7" fill="none" stroke="#707070" stroke-width="1.3"/>
<text transform="translate(371.7 16.36) scale(1.075 1)" text-anchor="end" class="tl">200</text>
<text transform="translate(371.7 31.73) scale(1.075 1)" text-anchor="end" class="tl">100</text>
<text transform="translate(371.7 47.1) scale(1.075 1)" text-anchor="end" class="tl">0</text>
<text transform="translate(371.7 62.47) scale(1.075 1)" text-anchor="end" class="tl">−100</text>
<text transform="translate(384.3 11.6) scale(1.075 1)" class="tl">KOI 984.01</text>
<path d="M374.9 97H651.7M374.9 118.15H651.7M374.9 139.3H651.7M464.87 154.35V83M554.53 154.35V83M644.2 154.35V83" stroke="#a2a2a2" stroke-width="1" stroke-dasharray="1.25 4.12" fill="none"/>
<path d="M375.2 149.88h2M652.7 149.88h-2M375.2 139.3h3M652.7 139.3h-3M375.2 128.72h2M652.7 128.72h-2M375.2 118.15h3M652.7 118.15h-3M375.2 107.58h2M652.7 107.58h-2M375.2 97h3M652.7 97h-3M375.2 86.43h2M652.7 86.43h-2M375.2 153.7v-3M375.2 82v3M384.17 153.7v-2M384.17 82v2M393.13 153.7v-2M393.13 82v2M402.1 153.7v-2M402.1 82v2M411.07 153.7v-2M411.07 82v2M420.03 153.7v-2M420.03 82v2M429 153.7v-2M429 82v2M437.97 153.7v-2M437.97 82v2M446.93 153.7v-2M446.93 82v2M455.9 153.7v-2M455.9 82v2M464.87 153.7v-3M464.87 82v3M473.83 153.7v-2M473.83 82v2M482.8 153.7v-2M482.8 82v2M491.77 153.7v-2M491.77 82v2M500.73 153.7v-2M500.73 82v2M509.7 153.7v-2M509.7 82v2M518.67 153.7v-2M518.67 82v2M527.63 153.7v-2M527.63 82v2M536.6 153.7v-2M536.6 82v2M545.57 153.7v-2M545.57 82v2M554.53 153.7v-3M554.53 82v3M563.5 153.7v-2M563.5 82v2M572.47 153.7v-2M572.47 82v2M581.43 153.7v-2M581.43 82v2M590.4 153.7v-2M590.4 82v2M599.37 153.7v-2M599.37 82v2M608.33 153.7v-2M608.33 82v2M617.3 153.7v-2M617.3 82v2M626.27 153.7v-2M626.27 82v2M635.23 153.7v-2M635.23 82v2M644.2 153.7v-3M644.2 82v3" stroke="#707070" stroke-width="1" fill="none"/>
<path d="M386.45 115.87v9.16M387.76 115.19v8.25M388.91 114.2v8.25M390.05 111.78v9.16M391.36 109.79v8.25M392.67 108.18v9.16M394.31 108.05v10.08M395.95 109.79v8.25M397.91 110.6v8.25M399.55 119.15v9.16M401.18 107v8.25M404.78 113.09v9.16M406.42 104.42v6.87M408.55 104.88v8.25M410.18 105.69v8.25M412.31 106.05v6.87M414.27 105.37v8.25M415.91 104.88v8.25M417.55 105.69v8.25M419.18 100.79v8.25M422.45 106.02v8.25M424.42 95.88v8.25M426.05 104.88v8.25M427.69 99.15v8.25M429.33 100.79v8.25M430.96 101.6v8.25M432.6 102.42v8.25M433.91 100.79v8.25M435.87 99.97v8.25M438.82 99.15v8.25M440.45 94.24v8.25M443.73 108.02v6.87M447.45 92.64v11.45M449.91 105.69v8.25M451.87 106.51v8.25M456.45 101.6v8.25M458.09 112.6v9.16M459.73 112.11v9.16M461.36 111.78v9.16M462.67 111.91v8.25M465.45 99.18v11.45M467.58 110.96v9.16M472.82 120.75v8.25M476.42 126.64v8.25M477.73 119.47v6.87M479.69 120.29v6.87M483.45 123.37v8.25M485.09 125.33v8.25M487.22 127.65v6.87M488.85 133.51v8.25M490.82 130.11v6.87M495.73 124.51v8.25M497.36 125.2v6.87M502.6 131.25v6.87M504.73 130.6v9.16M506.85 129.91v8.25M508.82 131.55v8.25M510.45 132.24v6.87M512.09 139.73v8.25M513.73 138.78v9.16M515.82 126.15v8.25M517.45 126.97v8.25M519.09 131.55v8.25M520.73 120.75v8.25M522.36 141.11v10.08M524.49 132.69v8.25M526.13 120.45v11.45M528.09 132.24v9.16M529.73 134.33v8.25M531.36 133.05v9.16M533.33 133.19v8.25M535.13 124.55v9.16M537.09 135.51v6.87M540.69 129.91v8.25M543.96 123.11v10.08M545.76 132.24v9.16M547.73 125.2v9.16M549.36 125.66v8.25M551.33 125.66v8.25M552.96 129.91v8.25M556.73 121.73v8.25M558.36 125.69v9.16M560 118.79v8.25M561.64 119.15v9.16M563.27 119.64v9.16M565.73 118.69v10.08M567.36 119.6v8.25M569 115.38v6.87M572.6 100.82v11.45M574.24 109.79v8.25M575.87 110.51v10.08M577.51 110.15v9.16M579.64 106.19v8.25M582.91 110.96v9.16M584.55 105.69v8.25M586.96 101.64v9.16M588.6 93.13v11.45M592.36 105.24v18.33M594 93.95v11.45M595.64 103.6v9.16M597.27 98.69v9.16M599.4 105.07v13.75M601.04 101.83v10.08M604.64 97.05v9.16M606.27 98.69v9.16M608.73 100.65v9.16M610.36 101.51v10.08M612 101.96v9.16M613.64 100.49v11.45M615.6 106.55v9.16M617.4 101.64v9.16M619.04 101.15v9.16M620.67 106.05v9.16M622.64 106.05v9.16M624.27 100.82v9.16M626.24 120.65v10.08M632.95 112.27v9.16M637.04 115.38v9.16M638.67 106.55v11.45M640.64 110.15v9.16M643.91 113.09v9.16M645.87 84.45v11.45M647.67 115.19v8.25" stroke="#5a5aff" stroke-width="1.2" fill="none"/>
<g fill="#0000ff"><circle cx="386.45" cy="120.45" r="2.05"/><circle cx="387.76" cy="119.31" r="2.05"/><circle cx="388.91" cy="118.33" r="2.05"/><circle cx="390.05" cy="116.36" r="2.05"/><circle cx="391.36" cy="113.91" r="2.05"/><circle cx="392.67" cy="112.76" r="2.05"/><circle cx="394.31" cy="113.09" r="2.05"/><circle cx="395.95" cy="113.91" r="2.05"/><circle cx="397.91" cy="114.73" r="2.05"/><circle cx="399.55" cy="123.73" r="2.05"/><circle cx="401.18" cy="111.13" r="2.05"/><circle cx="404.78" cy="117.67" r="2.05"/><circle cx="406.42" cy="107.85" r="2.05"/><circle cx="408.55" cy="109" r="2.05"/><circle cx="410.18" cy="109.82" r="2.05"/><circle cx="412.31" cy="109.49" r="2.05"/><circle cx="414.27" cy="109.49" r="2.05"/><circle cx="415.91" cy="109" r="2.05"/><circle cx="417.55" cy="109.82" r="2.05"/><circle cx="419.18" cy="104.91" r="2.05"/><circle cx="422.45" cy="110.15" r="2.05"/><circle cx="424.42" cy="100" r="2.05"/><circle cx="426.05" cy="109" r="2.05"/><circle cx="427.69" cy="103.27" r="2.05"/><circle cx="429.33" cy="104.91" r="2.05"/><circle cx="430.96" cy="105.73" r="2.05"/><circle cx="432.6" cy="106.55" r="2.05"/><circle cx="433.91" cy="104.91" r="2.05"/><circle cx="435.87" cy="104.09" r="2.05"/><circle cx="438.82" cy="103.27" r="2.05"/><circle cx="440.45" cy="98.36" r="2.05"/><circle cx="443.73" cy="111.45" r="2.05"/><circle cx="447.45" cy="98.36" r="2.05"/><circle cx="449.91" cy="109.82" r="2.05"/><circle cx="451.87" cy="110.64" r="2.05"/><circle cx="456.45" cy="105.73" r="2.05"/><circle cx="458.09" cy="117.18" r="2.05"/><circle cx="459.73" cy="116.69" r="2.05"/><circle cx="461.36" cy="116.36" r="2.05"/><circle cx="462.67" cy="116.04" r="2.05"/><circle cx="465.45" cy="104.91" r="2.05"/><circle cx="467.58" cy="115.55" r="2.05"/><circle cx="472.82" cy="124.87" r="2.05"/><circle cx="476.42" cy="130.76" r="2.05"/><circle cx="477.73" cy="122.91" r="2.05"/><circle cx="479.69" cy="123.73" r="2.05"/><circle cx="483.45" cy="127.49" r="2.05"/><circle cx="485.09" cy="129.45" r="2.05"/><circle cx="487.22" cy="131.09" r="2.05"/><circle cx="488.85" cy="137.64" r="2.05"/><circle cx="490.82" cy="133.55" r="2.05"/><circle cx="495.73" cy="128.64" r="2.05"/><circle cx="497.36" cy="128.64" r="2.05"/><circle cx="502.6" cy="134.69" r="2.05"/><circle cx="504.73" cy="135.18" r="2.05"/><circle cx="506.85" cy="134.04" r="2.05"/><circle cx="508.82" cy="135.67" r="2.05"/><circle cx="510.45" cy="135.67" r="2.05"/><circle cx="512.09" cy="143.85" r="2.05"/><circle cx="513.73" cy="143.36" r="2.05"/><circle cx="515.82" cy="130.27" r="2.05"/><circle cx="517.45" cy="131.09" r="2.05"/><circle cx="519.09" cy="135.67" r="2.05"/><circle cx="520.73" cy="124.87" r="2.05"/><circle cx="522.36" cy="146.15" r="2.05"/><circle cx="524.49" cy="136.82" r="2.05"/><circle cx="526.13" cy="126.18" r="2.05"/><circle cx="528.09" cy="136.82" r="2.05"/><circle cx="529.73" cy="138.45" r="2.05"/><circle cx="531.36" cy="137.64" r="2.05"/><circle cx="533.33" cy="137.31" r="2.05"/><circle cx="535.13" cy="129.13" r="2.05"/><circle cx="537.09" cy="138.95" r="2.05"/><circle cx="540.69" cy="134.04" r="2.05"/><circle cx="543.96" cy="128.15" r="2.05"/><circle cx="545.76" cy="136.82" r="2.05"/><circle cx="547.73" cy="129.78" r="2.05"/><circle cx="549.36" cy="129.78" r="2.05"/><circle cx="551.33" cy="129.78" r="2.05"/><circle cx="552.96" cy="134.04" r="2.05"/><circle cx="556.73" cy="125.85" r="2.05"/><circle cx="558.36" cy="130.27" r="2.05"/><circle cx="560" cy="122.91" r="2.05"/><circle cx="561.64" cy="123.73" r="2.05"/><circle cx="563.27" cy="124.22" r="2.05"/><circle cx="565.73" cy="123.73" r="2.05"/><circle cx="567.36" cy="123.73" r="2.05"/><circle cx="569" cy="118.82" r="2.05"/><circle cx="572.6" cy="106.55" r="2.05"/><circle cx="574.24" cy="113.91" r="2.05"/><circle cx="575.87" cy="115.55" r="2.05"/><circle cx="577.51" cy="114.73" r="2.05"/><circle cx="579.64" cy="110.31" r="2.05"/><circle cx="582.91" cy="115.55" r="2.05"/><circle cx="584.55" cy="109.82" r="2.05"/><circle cx="586.96" cy="106.22" r="2.05"/><circle cx="588.6" cy="98.85" r="2.05"/><circle cx="592.36" cy="114.4" r="2.05"/><circle cx="594" cy="99.67" r="2.05"/><circle cx="595.64" cy="108.18" r="2.05"/><circle cx="597.27" cy="103.27" r="2.05"/><circle cx="599.4" cy="111.95" r="2.05"/><circle cx="601.04" cy="106.87" r="2.05"/><circle cx="604.64" cy="101.64" r="2.05"/><circle cx="606.27" cy="103.27" r="2.05"/><circle cx="608.73" cy="105.24" r="2.05"/><circle cx="610.36" cy="106.55" r="2.05"/><circle cx="612" cy="106.55" r="2.05"/><circle cx="613.64" cy="106.22" r="2.05"/><circle cx="615.6" cy="111.13" r="2.05"/><circle cx="617.4" cy="106.22" r="2.05"/><circle cx="619.04" cy="105.73" r="2.05"/><circle cx="620.67" cy="110.64" r="2.05"/><circle cx="622.64" cy="110.64" r="2.05"/><circle cx="624.27" cy="105.4" r="2.05"/><circle cx="626.24" cy="125.69" r="2.05"/><circle cx="632.95" cy="116.85" r="2.05"/><circle cx="637.04" cy="119.96" r="2.05"/><circle cx="638.67" cy="112.27" r="2.05"/><circle cx="640.64" cy="114.73" r="2.05"/><circle cx="643.91" cy="117.67" r="2.05"/><circle cx="645.87" cy="90.18" r="2.05"/><circle cx="647.67" cy="119.31" r="2.05"/></g>
<rect x="375.2" y="82" width="277.5" height="71.7" fill="none" stroke="#707070" stroke-width="1.3"/>
<text transform="translate(371.7 101.5) scale(1.075 1)" text-anchor="end" class="tl">100</text>
<text transform="translate(371.7 122.65) scale(1.075 1)" text-anchor="end" class="tl">0</text>
<text transform="translate(371.7 143.8) scale(1.075 1)" text-anchor="end" class="tl">−100</text>
<text transform="translate(384.3 93.1) scale(1.075 1)" class="tl">KOI 1081.01</text>
<path d="M374.9 175.8H651.7M374.9 195.75H651.7M374.9 215.7H651.7M464.87 235.85V164.5M554.53 235.85V164.5M644.2 235.85V164.5" stroke="#a2a2a2" stroke-width="1" stroke-dasharray="1.25 4.12" fill="none"/>
<path d="M375.2 225.68h2M652.7 225.68h-2M375.2 215.7h3M652.7 215.7h-3M375.2 205.72h2M652.7 205.72h-2M375.2 195.75h3M652.7 195.75h-3M375.2 185.78h2M652.7 185.78h-2M375.2 175.8h3M652.7 175.8h-3M375.2 165.82h2M652.7 165.82h-2M375.2 235.2v-3M375.2 163.5v3M384.17 235.2v-2M384.17 163.5v2M393.13 235.2v-2M393.13 163.5v2M402.1 235.2v-2M402.1 163.5v2M411.07 235.2v-2M411.07 163.5v2M420.03 235.2v-2M420.03 163.5v2M429 235.2v-2M429 163.5v2M437.97 235.2v-2M437.97 163.5v2M446.93 235.2v-2M446.93 163.5v2M455.9 235.2v-2M455.9 163.5v2M464.87 235.2v-3M464.87 163.5v3M473.83 235.2v-2M473.83 163.5v2M482.8 235.2v-2M482.8 163.5v2M491.77 235.2v-2M491.77 163.5v2M500.73 235.2v-2M500.73 163.5v2M509.7 235.2v-2M509.7 163.5v2M518.67 235.2v-2M518.67 163.5v2M527.63 235.2v-2M527.63 163.5v2M536.6 235.2v-2M536.6 163.5v2M545.57 235.2v-2M545.57 163.5v2M554.53 235.2v-3M554.53 163.5v3M563.5 235.2v-2M563.5 163.5v2M572.47 235.2v-2M572.47 163.5v2M581.43 235.2v-2M581.43 163.5v2M590.4 235.2v-2M590.4 163.5v2M599.37 235.2v-2M599.37 163.5v2M608.33 235.2v-2M608.33 163.5v2M617.3 235.2v-2M617.3 163.5v2M626.27 235.2v-2M626.27 163.5v2M635.23 235.2v-2M635.23 163.5v2M644.2 235.2v-3M644.2 163.5v3" stroke="#707070" stroke-width="1" fill="none"/>
<path d="M390.05 179.04v9.82M392.18 172.82v14.73M396.6 179.04v11.45M399.05 179.36v9.82M400.85 190.33v11.45M405.44 190v11.45M407.73 171.18v18M409.69 194.09v9.82M412.15 197.36v13.09M414.27 193.27v9.82M418.69 199v9.82M425.4 191.15v4.91M427.36 196.87v11.45M429.82 204.73v11.45M434.24 198.18v11.45M442.91 203.58v11.45M447.45 189.51v8.18M451.87 185.42v13.09M458.91 188.04v8.18M460.55 191.31v9.82M464.96 186.73v11.45M469.55 184.6v14.73M471.67 214.55v11.45M473.64 185.09v9.82M475.76 183.95v9.82M477.4 181.82v8.18M479.04 181.49v8.18M480.67 185.91v8.18M484.6 189.51v9.82M486.73 191.15v11.45M488.85 190.33v13.09M491.64 167.42v11.45M496.05 195.73v8.18M498.18 174.78v14.73M500.31 204.4v9.82M502.6 205.55v11.45M509.31 203.91v9.82M516.31 201.45v9.82M524.82 192.95v11.45M529.4 192.13v13.09M533.49 188.36v9.82M535.78 179.36v13.09M537.91 200.64v9.82M544.45 180.51v9.82M546.91 179.69v11.45M553.45 187.55v9.82M555.91 180.18v11.45M557.87 189.18v8.18M562.45 193.6v9.82M564.58 205.22v8.18M566.55 198.18v9.82M568.18 197.36v9.82M569.49 197.85v8.18M573.42 200.96v9.82M575.87 185.42v16.36M577.67 206.69v9.82M579.64 205.87v9.82M580.78 206.36v8.18M582.09 210.45v19.64M584.05 210.95v11.45M586.64 203.58v9.82M588.6 201.45v9.82M597.76 182.15v13.09M601.85 187.55v11.45M606.27 167.42v14.73M610.85 188.69v11.45M613.15 167.09v14.73M617.73 175.27v13.09M619.69 183.95v9.82M622.15 177.73v11.45M623.95 196.55v9.82M626.73 180.18v9.82M630.98 177.4v8.18M635.4 186.4v8.18M639.82 176.91v14.73M641.78 184.6v9.82M644.24 203.42v8.18M646.36 200.96v8.18" stroke="#5a5aff" stroke-width="1.2" fill="none"/>
<g fill="#0000ff"><circle cx="390.05" cy="183.95" r="2.05"/><circle cx="392.18" cy="180.18" r="2.05"/><circle cx="396.6" cy="184.76" r="2.05"/><circle cx="399.05" cy="184.27" r="2.05"/><circle cx="400.85" cy="196.05" r="2.05"/><circle cx="405.44" cy="195.73" r="2.05"/><circle cx="407.73" cy="180.18" r="2.05"/><circle cx="409.69" cy="199" r="2.05"/><circle cx="412.15" cy="203.91" r="2.05"/><circle cx="414.27" cy="198.18" r="2.05"/><circle cx="418.69" cy="203.91" r="2.05"/><circle cx="425.4" cy="193.6" r="2.05"/><circle cx="427.36" cy="202.6" r="2.05"/><circle cx="429.82" cy="210.45" r="2.05"/><circle cx="434.24" cy="203.91" r="2.05"/><circle cx="442.91" cy="209.31" r="2.05"/><circle cx="447.45" cy="193.6" r="2.05"/><circle cx="451.87" cy="191.96" r="2.05"/><circle cx="458.91" cy="192.13" r="2.05"/><circle cx="460.55" cy="196.22" r="2.05"/><circle cx="464.96" cy="192.45" r="2.05"/><circle cx="469.55" cy="191.96" r="2.05"/><circle cx="471.67" cy="220.27" r="2.05"/><circle cx="473.64" cy="190" r="2.05"/><circle cx="475.76" cy="188.85" r="2.05"/><circle cx="477.4" cy="185.91" r="2.05"/><circle cx="479.04" cy="185.58" r="2.05"/><circle cx="480.67" cy="190" r="2.05"/><circle cx="484.6" cy="194.42" r="2.05"/><circle cx="486.73" cy="196.87" r="2.05"/><circle cx="488.85" cy="196.87" r="2.05"/><circle cx="491.64" cy="173.15" r="2.05"/><circle cx="496.05" cy="199.82" r="2.05"/><circle cx="498.18" cy="182.15" r="2.05"/><circle cx="500.31" cy="209.31" r="2.05"/><circle cx="502.6" cy="211.27" r="2.05"/><circle cx="509.31" cy="208.82" r="2.05"/><circle cx="516.31" cy="206.36" r="2.05"/><circle cx="524.82" cy="198.67" r="2.05"/><circle cx="529.4" cy="198.67" r="2.05"/><circle cx="533.49" cy="193.27" r="2.05"/><circle cx="535.78" cy="185.91" r="2.05"/><circle cx="537.91" cy="205.55" r="2.05"/><circle cx="544.45" cy="185.42" r="2.05"/><circle cx="546.91" cy="185.42" r="2.05"/><circle cx="553.45" cy="192.45" r="2.05"/><circle cx="555.91" cy="185.91" r="2.05"/><circle cx="557.87" cy="193.27" r="2.05"/><circle cx="562.45" cy="198.51" r="2.05"/><circle cx="564.58" cy="209.31" r="2.05"/><circle cx="566.55" cy="203.09" r="2.05"/><circle cx="568.18" cy="202.27" r="2.05"/><circle cx="569.49" cy="201.95" r="2.05"/><circle cx="573.42" cy="205.87" r="2.05"/><circle cx="575.87" cy="193.6" r="2.05"/><circle cx="577.67" cy="211.6" r="2.05"/><circle cx="579.64" cy="210.78" r="2.05"/><circle cx="580.78" cy="210.45" r="2.05"/><circle cx="582.09" cy="220.27" r="2.05"/><circle cx="584.05" cy="216.67" r="2.05"/><circle cx="586.64" cy="208.49" r="2.05"/><circle cx="588.6" cy="206.36" r="2.05"/><circle cx="597.76" cy="188.69" r="2.05"/><circle cx="601.85" cy="193.27" r="2.05"/><circle cx="606.27" cy="174.78" r="2.05"/><circle cx="610.85" cy="194.42" r="2.05"/><circle cx="613.15" cy="174.45" r="2.05"/><circle cx="617.73" cy="181.82" r="2.05"/><circle cx="619.69" cy="188.85" r="2.05"/><circle cx="622.15" cy="183.45" r="2.05"/><circle cx="623.95" cy="201.45" r="2.05"/><circle cx="626.73" cy="185.09" r="2.05"/><circle cx="630.98" cy="181.49" r="2.05"/><circle cx="635.4" cy="190.49" r="2.05"/><circle cx="639.82" cy="184.27" r="2.05"/><circle cx="641.78" cy="189.51" r="2.05"/><circle cx="644.24" cy="207.51" r="2.05"/><circle cx="646.36" cy="205.05" r="2.05"/></g>
<rect x="375.2" y="163.5" width="277.5" height="71.7" fill="none" stroke="#707070" stroke-width="1.3"/>
<text transform="translate(371.7 180.3) scale(1.075 1)" text-anchor="end" class="tl">100</text>
<text transform="translate(371.7 200.25) scale(1.075 1)" text-anchor="end" class="tl">0</text>
<text transform="translate(371.7 220.2) scale(1.075 1)" text-anchor="end" class="tl">−100</text>
<text transform="translate(384.3 174.6) scale(1.075 1)" class="tl">KOI 1102.01</text>
<text transform="translate(509.4 174.6) scale(1.075 1)" class="tl">Kepler24c</text>
<path d="M374.9 256.4H651.7M374.9 278.35H651.7M374.9 300.3H651.7M464.87 317.35V246M554.53 317.35V246M644.2 317.35V246" stroke="#a2a2a2" stroke-width="1" stroke-dasharray="1.25 4.12" fill="none"/>
<path d="M375.2 311.28h2M652.7 311.28h-2M375.2 300.3h3M652.7 300.3h-3M375.2 289.33h2M652.7 289.33h-2M375.2 278.35h3M652.7 278.35h-3M375.2 267.38h2M652.7 267.38h-2M375.2 256.4h3M652.7 256.4h-3M375.2 245.43h2M652.7 245.43h-2M375.2 316.7v-3M375.2 245v3M384.17 316.7v-2M384.17 245v2M393.13 316.7v-2M393.13 245v2M402.1 316.7v-2M402.1 245v2M411.07 316.7v-2M411.07 245v2M420.03 316.7v-2M420.03 245v2M429 316.7v-2M429 245v2M437.97 316.7v-2M437.97 245v2M446.93 316.7v-2M446.93 245v2M455.9 316.7v-2M455.9 245v2M464.87 316.7v-3M464.87 245v3M473.83 316.7v-2M473.83 245v2M482.8 316.7v-2M482.8 245v2M491.77 316.7v-2M491.77 245v2M500.73 316.7v-2M500.73 245v2M509.7 316.7v-2M509.7 245v2M518.67 316.7v-2M518.67 245v2M527.63 316.7v-2M527.63 245v2M536.6 316.7v-2M536.6 245v2M545.57 316.7v-2M545.57 245v2M554.53 316.7v-3M554.53 245v3M563.5 316.7v-2M563.5 245v2M572.47 316.7v-2M572.47 245v2M581.43 316.7v-2M581.43 245v2M590.4 316.7v-2M590.4 245v2M599.37 316.7v-2M599.37 245v2M608.33 316.7v-2M608.33 245v2M617.3 316.7v-2M617.3 245v2M626.27 316.7v-2M626.27 245v2M635.23 316.7v-2M635.23 245v2M644.2 316.7v-3M644.2 245v3" stroke="#707070" stroke-width="1" fill="none"/>
<path d="M426.87 293.4v6.28M442.91 306.49v6.28M458.95 269.35v6.28M475.4 269.71v7.85M491.27 274.32v9.43M523.67 247.29v7.85M539.87 249.61v9.43M555.91 248.76v7.85M572.04 264.44v6.28M588.4 263.95v6.28M604.27 278.74v9.43M620.64 303.71v6.28M636.67 301.59v6.28" stroke="#5a5aff" stroke-width="1.2" fill="none"/>
<g fill="#0000ff"><circle cx="426.87" cy="296.55" r="2.05"/><circle cx="442.91" cy="309.64" r="2.05"/><circle cx="458.95" cy="272.49" r="2.05"/><circle cx="475.4" cy="273.64" r="2.05"/><circle cx="491.27" cy="279.04" r="2.05"/><circle cx="523.67" cy="251.22" r="2.05"/><circle cx="539.87" cy="254.33" r="2.05"/><circle cx="555.91" cy="252.69" r="2.05"/><circle cx="572.04" cy="267.58" r="2.05"/><circle cx="588.4" cy="267.09" r="2.05"/><circle cx="604.27" cy="283.45" r="2.05"/><circle cx="620.64" cy="306.85" r="2.05"/><circle cx="636.67" cy="304.73" r="2.05"/></g>
<rect x="375.2" y="245" width="277.5" height="71.7" fill="none" stroke="#707070" stroke-width="1.3"/>
<text transform="translate(371.7 260.9) scale(1.075 1)" text-anchor="end" class="tl">50</text>
<text transform="translate(371.7 282.85) scale(1.075 1)" text-anchor="end" class="tl">0</text>
<text transform="translate(371.7 304.8) scale(1.075 1)" text-anchor="end" class="tl">−50</text>
<text transform="translate(384.3 256.1) scale(1.075 1)" class="tl">KOI 1103.01</text>
<path d="M374.9 340.9H651.7M374.9 358.35H651.7M374.9 375.8H651.7M374.9 393.25H651.7M464.87 399.05V327.7M554.53 399.05V327.7M644.2 399.05V327.7" stroke="#a2a2a2" stroke-width="1" stroke-dasharray="1.25 4.12" fill="none"/>
<path d="M375.2 393.25h3M652.7 393.25h-3M375.2 384.53h2M652.7 384.53h-2M375.2 375.8h3M652.7 375.8h-3M375.2 367.08h2M652.7 367.08h-2M375.2 358.35h3M652.7 358.35h-3M375.2 349.62h2M652.7 349.62h-2M375.2 340.9h3M652.7 340.9h-3M375.2 332.18h2M652.7 332.18h-2M375.2 398.4v-3M375.2 326.7v3M384.17 398.4v-2M384.17 326.7v2M393.13 398.4v-2M393.13 326.7v2M402.1 398.4v-2M402.1 326.7v2M411.07 398.4v-2M411.07 326.7v2M420.03 398.4v-2M420.03 326.7v2M429 398.4v-2M429 326.7v2M437.97 398.4v-2M437.97 326.7v2M446.93 398.4v-2M446.93 326.7v2M455.9 398.4v-2M455.9 326.7v2M464.87 398.4v-3M464.87 326.7v3M473.83 398.4v-2M473.83 326.7v2M482.8 398.4v-2M482.8 326.7v2M491.77 398.4v-2M491.77 326.7v2M500.73 398.4v-2M500.73 326.7v2M509.7 398.4v-2M509.7 326.7v2M518.67 398.4v-2M518.67 326.7v2M527.63 398.4v-2M527.63 326.7v2M536.6 398.4v-2M536.6 326.7v2M545.57 398.4v-2M545.57 326.7v2M554.53 398.4v-3M554.53 326.7v3M563.5 398.4v-2M563.5 326.7v2M572.47 398.4v-2M572.47 326.7v2M581.43 398.4v-2M581.43 326.7v2M590.4 398.4v-2M590.4 326.7v2M599.37 398.4v-2M599.37 326.7v2M608.33 398.4v-2M608.33 326.7v2M617.3 398.4v-2M617.3 326.7v2M626.27 398.4v-2M626.27 326.7v2M635.23 398.4v-2M635.23 326.7v2M644.2 398.4v-3M644.2 326.7v3" stroke="#707070" stroke-width="1" fill="none"/>
<path d="M394.31 380.98v13.75M422.45 357.25v11.45M451.09 329.44v13.75M479.49 335.98v10.47M536.27 331.4v13.09M593.31 360.04v11.45M621.78 368.22v14.73" stroke="#5a5aff" stroke-width="1.2" fill="none"/>
<g fill="#0000ff"><circle cx="394.31" cy="387.85" r="2.05"/><circle cx="422.45" cy="362.98" r="2.05"/><circle cx="451.09" cy="336.31" r="2.05"/><circle cx="479.49" cy="341.22" r="2.05"/><circle cx="536.27" cy="337.95" r="2.05"/><circle cx="593.31" cy="365.76" r="2.05"/><circle cx="621.78" cy="375.58" r="2.05"/></g>
<rect x="375.2" y="326.7" width="277.5" height="71.7" fill="none" stroke="#707070" stroke-width="1.3"/>
<text transform="translate(371.7 345.4) scale(1.075 1)" text-anchor="end" class="tl">10</text>
<text transform="translate(371.7 362.85) scale(1.075 1)" text-anchor="end" class="tl">0</text>
<text transform="translate(371.7 380.3) scale(1.075 1)" text-anchor="end" class="tl">−10</text>
<text transform="translate(371.7 397.75) scale(1.075 1)" text-anchor="end" class="tl">−20</text>
<text transform="translate(384.3 337.8) scale(1.075 1)" class="tl">KOI 1162.01</text>
<text transform="translate(54.5 411.7) scale(1.075 1)" text-anchor="middle" class="tl">0</text>
<text transform="translate(144.17 411.7) scale(1.075 1)" text-anchor="middle" class="tl">500</text>
<text transform="translate(233.83 411.7) scale(1.075 1)" text-anchor="middle" class="tl">1000</text>
<text transform="translate(323.5 411.7) scale(1.075 1)" text-anchor="middle" class="tl">1500</text>
<text transform="translate(375.2 411.7) scale(1.075 1)" text-anchor="middle" class="tl">0</text>
<text transform="translate(464.87 411.7) scale(1.075 1)" text-anchor="middle" class="tl">500</text>
<text transform="translate(554.53 411.7) scale(1.075 1)" text-anchor="middle" class="tl">1000</text>
<text transform="translate(644.2 411.7) scale(1.075 1)" text-anchor="middle" class="tl">1500</text>
<text transform="translate(363.6 436.8) scale(1.076 1)" text-anchor="middle" class="ax">Time [BJD −2454900]</text>
<text transform="translate(16.3 197.3) scale(1.065 1) rotate(-90)" text-anchor="middle" class="ax">O−C [min]</text>
</svg>
</body></html>
